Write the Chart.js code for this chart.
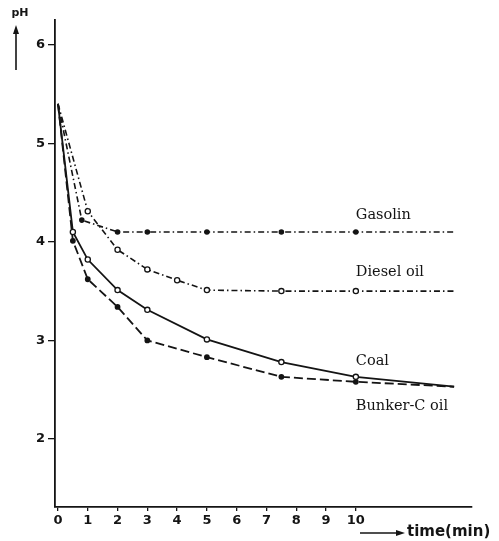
<!DOCTYPE html>
<html>
<head>
<meta charset="utf-8">
<script src="https://cdn.jsdelivr.net/npm/chart.js@4/dist/chart.umd.min.js"></script>
<style>
  html, body { margin: 0; padding: 0; background: #fff; }
  #wrap { width: 499px; height: 541px; position: relative; }
</style>
</head>
<body>
<div id="wrap"><canvas id="chart"></canvas></div>
<script>
// values (time in min, pH)
const gasolinTime = [0, 0.8, 2, 3, 5, 7.5, 10, 13.3];
const gasolinPH   = [5.4, 4.22, 4.1, 4.1, 4.1, 4.1, 4.1, 4.1];

const dieselTime = [0, 1, 2, 3, 4, 5, 7.5, 10, 13.3];
const dieselPH   = [5.4, 4.31, 3.92, 3.72, 3.61, 3.51, 3.5, 3.5, 3.5];

const coalTime = [0, 0.5, 1, 2, 3, 5, 7.5, 10, 13.3];
const coalPH   = [5.4, 4.1, 3.82, 3.51, 3.31, 3.01, 2.78, 2.63, 2.53];

const bunkerTime = [0, 0.5, 1, 2, 3, 5, 7.5, 10, 13.3];
const bunkerPH   = [5.4, 4.01, 3.62, 3.34, 3.0, 2.83, 2.63, 2.58, 2.53];

const seriesNames = ['Gasolin', 'Diesel oil', 'Coal', 'Bunker-C oil'];
const xTickValues = [0, 1, 2, 3, 4, 5, 6, 7, 8, 9, 10];
const yTickValues = [2, 3, 4, 5, 6];

const ink = '#141414';

function points(xs, ys) {
    return xs.map((x, i) => ({ x: x, y: ys[i] }));
}
// marker on every point except the first and last
function radii(xs, r) {
    return xs.map((x, i) => (i === 0 || i === xs.length - 1) ? 0 : r);
}

// series names next to the curves, anchored at t = 10 min
const labelAt = 10;
const labelShift = [-17, -19, -16, 24];

const labelPlugin = {
    id: 'labels',
    afterDatasetsDraw(chart) {
        const ctx = chart.ctx;
        const xs = chart.scales.x, ys = chart.scales.y;
        ctx.save();
        ctx.fillStyle = ink;
        ctx.font = '14.5px "DejaVu Serif"';
        ctx.textBaseline = 'middle';
        ctx.textAlign = 'left';
        chart.data.datasets.forEach((ds, i) => {
            const p = ds.data.find(d => d.x === labelAt);
            ctx.fillText(seriesNames[i], xs.getPixelForValue(labelAt), ys.getPixelForValue(p.y) + labelShift[i]);
        });

        // y axis name with arrow
        ctx.font = 'bold 11px "DejaVu Sans"';
        ctx.textAlign = 'center';
        ctx.fillText('pH', 20, 13);
        ctx.strokeStyle = ink;
        ctx.lineWidth = 1.6;
        ctx.beginPath();
        ctx.moveTo(16, 70);
        ctx.lineTo(16, 30);
        ctx.stroke();
        ctx.beginPath();
        ctx.moveTo(16, 25);
        ctx.lineTo(13, 34);
        ctx.lineTo(19, 34);
        ctx.closePath();
        ctx.fill();

        // x axis name with arrow
        ctx.beginPath();
        ctx.moveTo(360, 533);
        ctx.lineTo(398, 533);
        ctx.stroke();
        ctx.beginPath();
        ctx.moveTo(405, 533);
        ctx.lineTo(396, 530);
        ctx.lineTo(396, 536);
        ctx.closePath();
        ctx.fill();
        ctx.font = 'bold 15px "DejaVu Sans"';
        ctx.textAlign = 'left';
        ctx.fillText('time(min)', 407, 532);
        ctx.restore();
    }
};

new Chart(document.getElementById('chart'), {
    type: 'line',
    data: {
        datasets: [{
            label: seriesNames[0],
            data: points(gasolinTime, gasolinPH),
            borderColor: ink,
            borderWidth: 1.6,
            borderDash: [6, 3, 1.5, 3],
            pointRadius: radii(gasolinTime, 2),
            pointBackgroundColor: ink,
            pointBorderColor: ink
        }, {
            label: seriesNames[1],
            data: points(dieselTime, dieselPH),
            borderColor: ink,
            borderWidth: 1.6,
            borderDash: [6, 3, 1.5, 3],
            pointRadius: radii(dieselTime, 2.6),
            pointBackgroundColor: '#fff',
            pointBorderColor: ink,
            pointBorderWidth: 1.3
        }, {
            label: seriesNames[2],
            data: points(coalTime, coalPH),
            borderColor: ink,
            borderWidth: 1.8,
            pointRadius: radii(coalTime, 2.6),
            pointBackgroundColor: '#fff',
            pointBorderColor: ink,
            pointBorderWidth: 1.3
        }, {
            label: seriesNames[3],
            data: points(bunkerTime, bunkerPH),
            borderColor: ink,
            borderWidth: 1.8,
            borderDash: [9, 4],
            pointRadius: radii(bunkerTime, 2),
            pointBackgroundColor: ink,
            pointBorderColor: ink
        }]
    },
    options: {
        responsive: true,
        maintainAspectRatio: false,
        animation: false,
        layout: { padding: { left: 25, top: 20, right: 27, bottom: 0 } },
        plugins: {
            legend: { display: false },
            tooltip: { enabled: false }
        },
        elements: { line: { tension: 0, fill: false } },
        scales: {
            x: {
                type: 'linear',
                min: -0.1,
                max: 13.9,
                afterBuildTicks: s => { s.ticks = xTickValues.map(v => ({ value: v })); },
                afterFit: s => { s.height = 34; },
                grid: { display: true, drawOnChartArea: false, tickLength: 4, color: ink, lineWidth: 1.3 },
                border: { display: true, color: ink, width: 1.8 },
                ticks: {
                    color: ink,
                    padding: 2,
                    maxRotation: 0,
                    font: { family: 'DejaVu Sans', weight: 'bold', size: 13 }
                }
            },
            y: {
                type: 'linear',
                min: 1.31,
                max: 6.25,
                afterBuildTicks: s => { s.ticks = yTickValues.map(v => ({ value: v })); },
                afterFit: s => { s.width = 30; },
                grid: { display: true, drawOnChartArea: false, tickLength: 7, color: ink, lineWidth: 1.3 },
                border: { display: true, color: ink, width: 1.8 },
                ticks: {
                    color: ink,
                    padding: 3,
                    font: { family: 'DejaVu Sans', weight: 'bold', size: 13 }
                }
            }
        }
    },
    plugins: [labelPlugin]
});
</script>
</body>
</html>
